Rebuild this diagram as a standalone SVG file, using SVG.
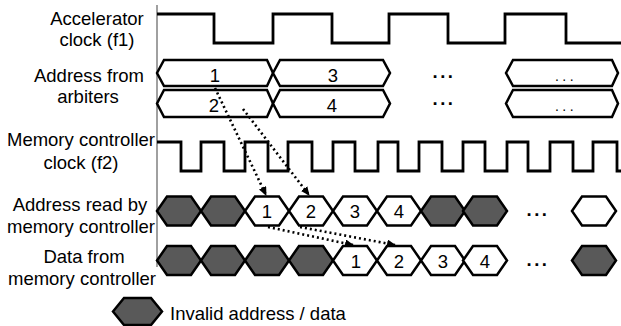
<svg xmlns="http://www.w3.org/2000/svg" width="621" height="326" viewBox="0 0 621 326">
  <style>
    .lbl { font-family: "Liberation Sans", Arial, sans-serif; font-size: 18.5px; fill: #000; text-anchor: middle; }
    .num { font-family: "Liberation Sans", Arial, sans-serif; font-size: 18.5px; fill: #000; text-anchor: middle; }
    .dots { font-family: "Liberation Sans", Arial, sans-serif; font-size: 18.5px; font-weight: bold; fill: #000; text-anchor: middle; letter-spacing: 2.5px; }
    .sdots { font-family: "Liberation Sans", Arial, sans-serif; font-size: 14px; fill: #000; text-anchor: middle; letter-spacing: 3.5px; }
    .wave { fill: none; stroke: #000; stroke-width: 2.8; stroke-linejoin: miter; }
    .bus { fill: #fff; stroke: #000; stroke-width: 2.5; stroke-linejoin: miter; }
    .cell { stroke: #000; stroke-width: 2.5; stroke-linejoin: miter; }
    .bad { fill: #595959; }
    .ok { fill: #fff; }
    .link { fill: none; stroke: #000; stroke-width: 2.6; stroke-dasharray: 2 3; }
  </style>
  <defs>
    <!-- one bus-slot hexagon, left point at the origin -->
    <polygon id="slot" points="0,0 10,-14.5 34,-14.5 44,0 34,14.5 10,14.5"/>
    <marker id="head" markerUnits="userSpaceOnUse" markerWidth="9" markerHeight="8" refX="8" refY="4" orient="auto">
      <path d="M0,0 L9,4 L0,8 Z" fill="#000"/>
    </marker>
  </defs>

  <!-- signal names -->
  <g id="labels">
    <text class="lbl" x="97" y="25">Accelerator</text>
    <text class="lbl" x="97" y="46">clock (f1)</text>
    <text class="lbl" x="89" y="82">Address from</text>
    <text class="lbl" x="88" y="103">arbiters</text>
    <text class="lbl" x="81" y="146">Memory controller</text>
    <text class="lbl" x="81" y="169">clock (f2)</text>
    <text class="lbl" x="80" y="211">Address read by</text>
    <text class="lbl" x="81" y="233">memory controller</text>
    <text class="lbl" x="84" y="263">Data from</text>
    <text class="lbl" x="82" y="285">memory controller</text>
  </g>

  <!-- time axis -->
  <line id="axis" x1="157" y1="5" x2="157" y2="267" stroke="#808080" stroke-width="1.5"/>

  <!-- accelerator clock f1 -->
  <g id="clk-f1">
    <path class="wave" d="M157,14 H214 V43 H273 V14 H332 V43 H389 V14 H448 V43 H505 V14 H566 V43 H621"/>
  </g>

  <!-- addresses from arbiters -->
  <g id="arb-addr">
    <polygon class="bus" points="157,73 164,60 267,60 273,73 267,86 164,86"/>
    <polygon class="bus" points="273,73 280,60 383,60 390,73 383,86 280,86"/>
    <polygon class="bus" points="506,73 513,60 612,60 618,73 612,86 513,86"/>
    <polygon class="bus" points="157,103.5 164,90 267,90 273,103.5 267,117 164,117"/>
    <polygon class="bus" points="273,103.5 280,90 383,90 390,103.5 383,117 280,117"/>
    <polygon class="bus" points="506,103.5 513,90 612,90 618,103.5 612,117 513,117"/>
    <text class="num" x="215" y="82">1</text>
    <text class="num" x="333" y="82">3</text>
    <text class="num" x="214" y="112">2</text>
    <text class="num" x="332" y="112">4</text>
    <text class="dots" x="444" y="78">...</text>
    <text class="dots" x="444" y="105">...</text>
    <text class="sdots" x="566" y="81">...</text>
    <text class="sdots" x="566" y="111">...</text>
  </g>

  <!-- memory controller clock f2 -->
  <g id="clk-f2">
    <path class="wave" d="M157,142 H181 V171 H201 V142 H224 V171 H245 V142 H268 V171 H288 V142 H312 V171 H333 V142 H355 V171 H378 V142 H398 V171 H419 V142 H442 V171 H463 V142 H485 V171 H507 V142 H528 V171 H550 V142 H573 V171 H593 V142 H617 V171 H621"/>
  </g>

  <!-- addresses read by the memory controller -->
  <g id="mc-addr">
    <use href="#slot" class="cell bad" x="157" y="211"/>
    <use href="#slot" class="cell bad" x="201" y="211"/>
    <use href="#slot" class="cell ok" x="245" y="211"/>
    <use href="#slot" class="cell ok" x="289" y="211"/>
    <use href="#slot" class="cell ok" x="333" y="211"/>
    <use href="#slot" class="cell ok" x="377" y="211"/>
    <use href="#slot" class="cell bad" x="421" y="211"/>
    <use href="#slot" class="cell bad" x="463" y="211"/>
    <use href="#slot" class="cell ok" x="572" y="211"/>
    <text class="num" x="267" y="218">1</text>
    <text class="num" x="311" y="218">2</text>
    <text class="num" x="355" y="218">3</text>
    <text class="num" x="399" y="218">4</text>
    <text class="dots" x="538" y="216">...</text>
  </g>

  <!-- data returned by the memory controller -->
  <g id="mc-data">
    <use href="#slot" class="cell bad" x="157" y="260.5"/>
    <use href="#slot" class="cell bad" x="201" y="260.5"/>
    <use href="#slot" class="cell bad" x="245" y="260.5"/>
    <use href="#slot" class="cell bad" x="289" y="260.5"/>
    <use href="#slot" class="cell ok" x="333" y="260.5"/>
    <use href="#slot" class="cell ok" x="377" y="260.5"/>
    <use href="#slot" class="cell ok" x="421" y="260.5"/>
    <use href="#slot" class="cell ok" x="463" y="260.5"/>
    <use href="#slot" class="cell bad" x="572" y="260.5"/>
    <text class="num" x="356" y="267.5">1</text>
    <text class="num" x="399" y="267.5">2</text>
    <text class="num" x="443" y="267.5">3</text>
    <text class="num" x="485" y="267.5">4</text>
    <text class="dots" x="538" y="266">...</text>
  </g>

  <!-- dotted transfer arrows -->
  <g id="connectors">
    <line class="link" x1="215" y1="88" x2="266" y2="195" marker-end="url(#head)"/>
    <line class="link" x1="243" y1="109" x2="309" y2="195" marker-end="url(#head)"/>
    <line class="link" x1="268" y1="227" x2="353" y2="245" marker-end="url(#head)"/>
    <line class="link" x1="300" y1="227" x2="395" y2="245" marker-end="url(#head)"/>
  </g>

  <!-- legend -->
  <g id="legend">
    <polygon class="cell bad" points="113,311.5 124,298 151,298 162,311.5 151,325 124,325"/>
    <text class="lbl" x="170" y="320" style="text-anchor:start">Invalid address / data</text>
  </g>
</svg>
